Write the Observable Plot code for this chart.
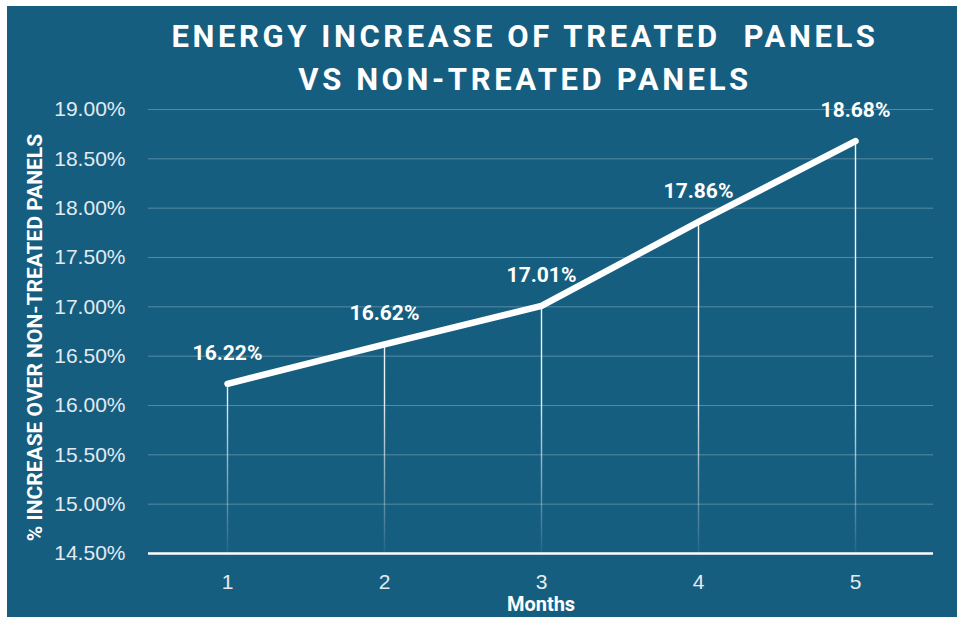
<!DOCTYPE html>
<html>
<head>
<meta charset="utf-8">
<script src="https://cdn.jsdelivr.net/npm/d3@7"></script>
<script src="https://cdn.jsdelivr.net/npm/@observablehq/plot@0.6"></script>
<style>
  html, body { margin: 0; padding: 0; background: #ffffff; }
  #panel {
    position: absolute; left: 7px; top: 6px; width: 950px; height: 611px;
    background: #165e80; overflow: hidden;
  }
  #title {
    height: 89px; box-sizing: border-box; padding-top: 9px; padding-left: 86px;
    text-align: center; color: #ffffff;
    font-family: Roboto, "Liberation Sans", sans-serif; font-weight: 700;
    font-size: 31px; line-height: 43px; letter-spacing: 3.6px; white-space: pre;
  }
  svg { display: block; }
</style>
</head>
<body>
<div id="panel">
  <div id="title">ENERGY INCREASE OF TREATED  PANELS
VS NON-TREATED PANELS</div>
  <div id="chart"></div>
</div>
<script>
// Data
const months = [1, 2, 3, 4, 5];
const increasePct = [16.22, 16.62, 17.01, 17.86, 18.68];
const yTicks = [14.5, 15, 15.5, 16, 16.5, 17, 17.5, 18, 18.5, 19];
const xLabel = "Months";
const yLabel = "% INCREASE OVER NON-TREATED PANELS";

const data = months.map((m, i) => ({month: m, value: increasePct[i]}));
const fmt = d => d.toFixed(2) + "%";

const chart = Plot.plot({
  width: 950,
  height: 522,
  marginTop: 14,
  marginBottom: 64,
  marginLeft: 141,
  marginRight: 24,
  style: {background: "transparent", color: "#ffffff", overflow: "visible"},
  x: {type: "point", domain: months, padding: 0.5},
  y: {domain: [14.5, 19]},
  marks: [
    Plot.gridY(yTicks, {stroke: "#ffffff", strokeOpacity: 0.28, strokeWidth: 1}),
    Plot.axisY(yTicks, {
      tickSize: 0, tickPadding: 23, tickFormat: fmt, label: null,
      fontSize: 21, fontFamily: "Liberation Sans, Arial, sans-serif", fill: "#e4ebf0"
    }),
    Plot.axisX(months, {
      tickSize: 0, tickPadding: 21, label: null,
      fontSize: 21, fontFamily: "Liberation Sans, Arial, sans-serif", fill: "#e4ebf0"
    }),
    Plot.ruleX(data, {x: "month", y1: 14.5, y2: "value", stroke: "url(#dropfade)", strokeWidth: 1.4}),
    Plot.ruleY([14.5], {stroke: "#ffffff", strokeWidth: 2.5}),
    Plot.line(data, {x: "month", y: "value", stroke: "#ffffff", strokeWidth: 6.5, strokeLinecap: "round", strokeLinejoin: "round"}),
    Plot.text(data, {
      x: "month", y: "value", text: d => fmt(d.value), dy: -31,
      fill: "#ffffff", fontSize: 21, fontWeight: 700, fontFamily: "Roboto, sans-serif"
    }),
    Plot.text([xLabel], {
      frameAnchor: "bottom", dy: 51, lineAnchor: "middle",
      fill: "#ffffff", fontSize: 20, fontWeight: 700, fontFamily: "Roboto, sans-serif"
    }),
    Plot.text([yLabel], {
      frameAnchor: "left", dx: -113, dy: 6, rotate: -90, lineAnchor: "middle", textAnchor: "middle",
      fill: "#ffffff", fontSize: 21, fontWeight: 700, fontFamily: "Roboto, sans-serif"
    })
  ]
});

// Gradient for the fading drop lines, positioned through the y scale
const ys = chart.scale("y");
const defs = d3.select(chart).insert("defs", ":first-child");
const grad = defs.append("linearGradient")
  .attr("id", "dropfade")
  .attr("gradientUnits", "userSpaceOnUse")
  .attr("x1", 0).attr("x2", 0)
  .attr("y1", ys.apply(19)).attr("y2", ys.apply(14.5));
grad.append("stop").attr("offset", "0%").attr("stop-color", "#ffffff").attr("stop-opacity", 1);
grad.append("stop").attr("offset", "65%").attr("stop-color", "#ffffff").attr("stop-opacity", 0.9);
grad.append("stop").attr("offset", "100%").attr("stop-color", "#ffffff").attr("stop-opacity", 0.05);

document.getElementById("chart").append(chart);
</script>
</body>
</html>
